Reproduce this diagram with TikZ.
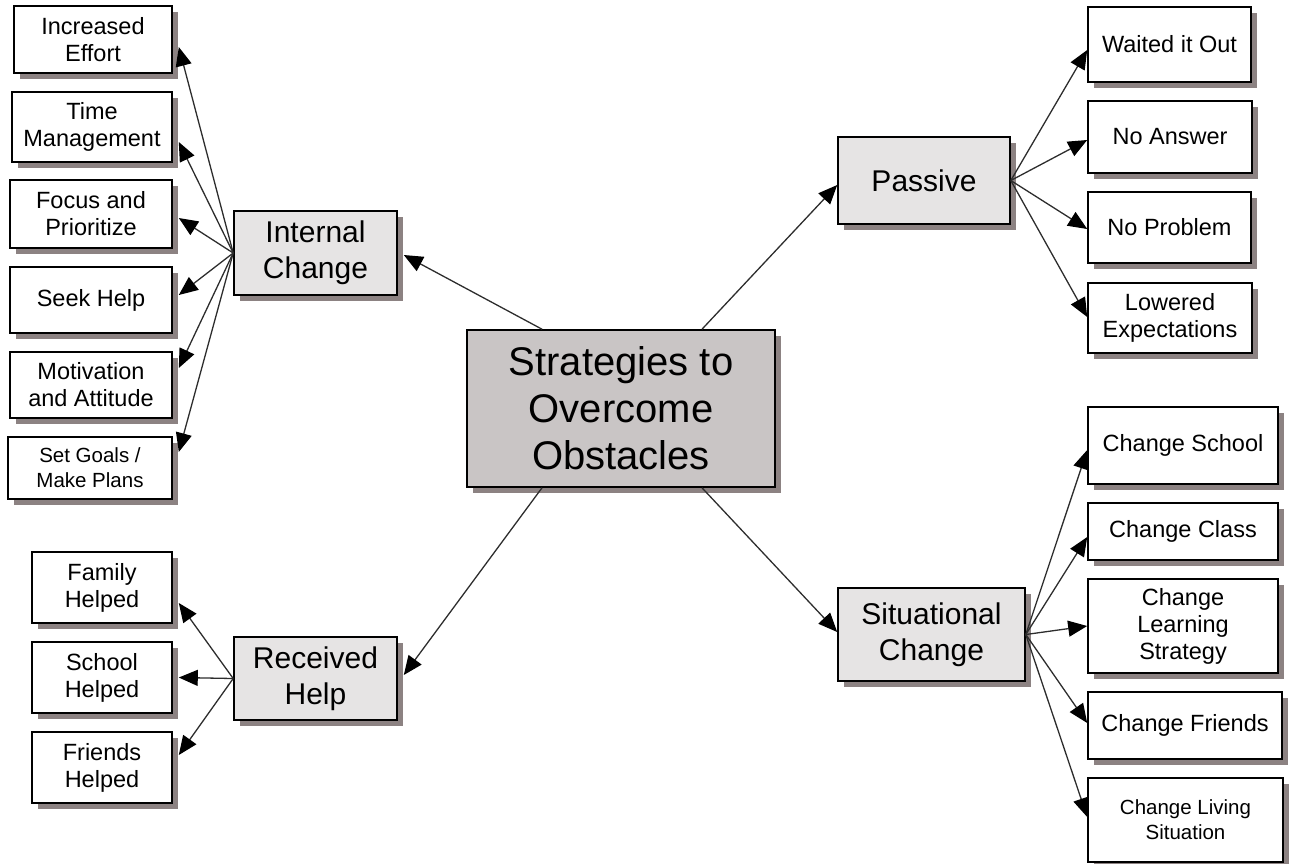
\documentclass[tikz,border=0pt]{standalone}
\usepackage{fontspec}
\setmainfont{Liberation Sans}
\usetikzlibrary{arrows.meta,shadows}
\definecolor{grisracine}{RGB}{201,197,197}
\definecolor{grisbranche}{RGB}{230,228,228}
\definecolor{ombre}{RGB}{140,130,130}
\definecolor{trait}{RGB}{45,45,45}
\begin{document}
\begin{tikzpicture}[x=1pt,y=-1pt]
			\tikzstyle{fleche}=[->,>={Triangle[length=19pt,width=16pt,color=black]},line width=1.3pt,color=trait]
			\tikzstyle{boite}=[draw=black,line width=1.6pt,inner sep=0pt,align=center,drop shadow={shadow xshift=5.5pt,shadow yshift=-5.5pt,fill=ombre,opacity=1}]
			\tikzstyle{feuille}=[boite,fill=white,font=\fontsize{23.5}{27}\selectfont]
			\tikzstyle{petite}=[font=\fontsize{20.5}{25}\selectfont]
			\tikzstyle{branche}=[boite,fill=grisbranche,font=\fontsize{30}{36}\selectfont]
			\tikzstyle{racine}=[boite,fill=grisracine,font=\fontsize{40}{47}\selectfont]
			\def\Decalage{6pt}
			\useasboundingbox (0,0) rectangle (1289,863);
			\node[racine,minimum width=308pt,minimum height=157pt] (R) at (621,408.5) {Strategies to\\Overcome\\Obstacles};
			\node[branche,minimum width=163pt,minimum height=84pt] (Ra) at (315.5,253) {Internal\\Change};
			\node[branche,minimum width=163pt,minimum height=83pt] (Rb) at (315.5,678.5) {Received\\Help};
			\node[branche,minimum width=172pt,minimum height=87pt] (Rc) at (924,180.5) {Passive};
			\node[branche,minimum width=187pt,minimum height=93pt] (Rd) at (931.5,634.5) {Situational\\Change};
			\node[feuille,minimum width=158pt,minimum height=67pt] (Raa) at (93,39.5) {Increased\\Effort};
			\node[feuille,minimum width=160pt,minimum height=70pt] (Rab) at (92,127) {Time\\Management};
			\node[feuille,minimum width=162pt,minimum height=68pt] (Rac) at (91,214) {Focus and\\Prioritize};
			\node[feuille,minimum width=162pt,minimum height=66pt] (Rad) at (91,300) {Seek Help};
			\node[feuille,minimum width=162pt,minimum height=66pt] (Rae) at (91,385) {Motivation\\and Attitude};
			\node[feuille,petite,minimum width=164pt,minimum height=62pt] (Raf) at (90,468) {Set Goals /\\Make Plans};
			\node[feuille,minimum width=140pt,minimum height=71pt] (Rba) at (102,587.5) {Family\\Helped};
			\node[feuille,minimum width=140pt,minimum height=71pt] (Rbb) at (102,677.5) {School\\Helped};
			\node[feuille,minimum width=140pt,minimum height=71pt] (Rbc) at (102,767.5) {Friends\\Helped};
			\node[feuille,minimum width=163pt,minimum height=75pt] (Rca) at (1169.5,44.5) {Waited it Out};
			\node[feuille,minimum width=164pt,minimum height=72pt] (Rcb) at (1170,137) {No Answer};
			\node[feuille,minimum width=163pt,minimum height=71pt] (Rcc) at (1169.5,227.5) {No Problem};
			\node[feuille,minimum width=164pt,minimum height=70pt] (Rcd) at (1170,318) {Lowered\\Expectations};
			\node[feuille,minimum width=190pt,minimum height=77pt] (Rda) at (1183,445.5) {Change School};
			\node[feuille,minimum width=190pt,minimum height=57pt] (Rdb) at (1183,531.5) {Change Class};
			\node[feuille,minimum width=190pt,minimum height=94pt] (Rdc) at (1183,626) {Change\\Learning\\Strategy};
			\node[feuille,minimum width=194pt,minimum height=67pt] (Rdd) at (1185,725.5) {Change Friends};
			\node[feuille,petite,minimum width=195pt,minimum height=84pt] (Rde) at (1185.5,820) {Change Living\\Situation};
			\draw[fleche] ([xshift=-79pt]R.north)--([xshift=\Decalage,yshift=-2pt]Ra.east);
			\draw[fleche] ([xshift=81pt]R.north)--([yshift=-4.5pt]Rc.west);
			\draw[fleche] ([xshift=-79pt]R.south)--([xshift=\Decalage,yshift=3.5pt]Rb.east);
			\draw[fleche] ([xshift=81pt]R.south)--([yshift=2.5pt]Rd.west);
			\draw[fleche] (Ra.west)--([xshift=\Decalage,yshift=-7.5pt]Raa.east);
			\draw[fleche] (Ra.west)--([xshift=\Decalage,yshift=-15pt]Rab.east);
			\draw[fleche] (Ra.west)--([xshift=\Decalage,yshift=-4pt]Rac.east);
			\draw[fleche] (Ra.west)--([xshift=\Decalage,yshift=5pt]Rad.east);
			\draw[fleche] (Ra.west)--([xshift=\Decalage,yshift=17pt]Rae.east);
			\draw[fleche] (Ra.west)--([xshift=\Decalage,yshift=16pt]Raf.east);
			\draw[fleche] (Rb.west)--([xshift=\Decalage,yshift=-15.5pt]Rba.east);
			\draw[fleche] (Rb.west)--([xshift=\Decalage]Rbb.east);
			\draw[fleche] (Rb.west)--([xshift=\Decalage,yshift=12.5pt]Rbc.east);
			\draw[fleche] (Rc.east)--([yshift=-5.5pt]Rca.west);
			\draw[fleche] (Rc.east)--([yshift=-3pt]Rcb.west);
			\draw[fleche] (Rc.east)--([yshift=-1.5pt]Rcc.west);
			\draw[fleche] (Rc.east)--([yshift=1pt]Rcd.west);
			\draw[fleche] (Rd.east)--([yshift=-4.5pt]Rda.west);
			\draw[fleche] (Rd.east)--([yshift=-5.5pt]Rdb.west);
			\draw[fleche] (Rd.east)--(Rdc.west);
			\draw[fleche] (Rd.east)--([yshift=2.5pt]Rdd.west);
			\draw[fleche] (Rd.east)--([yshift=3pt]Rde.west);
		\end{tikzpicture}
\end{document}
